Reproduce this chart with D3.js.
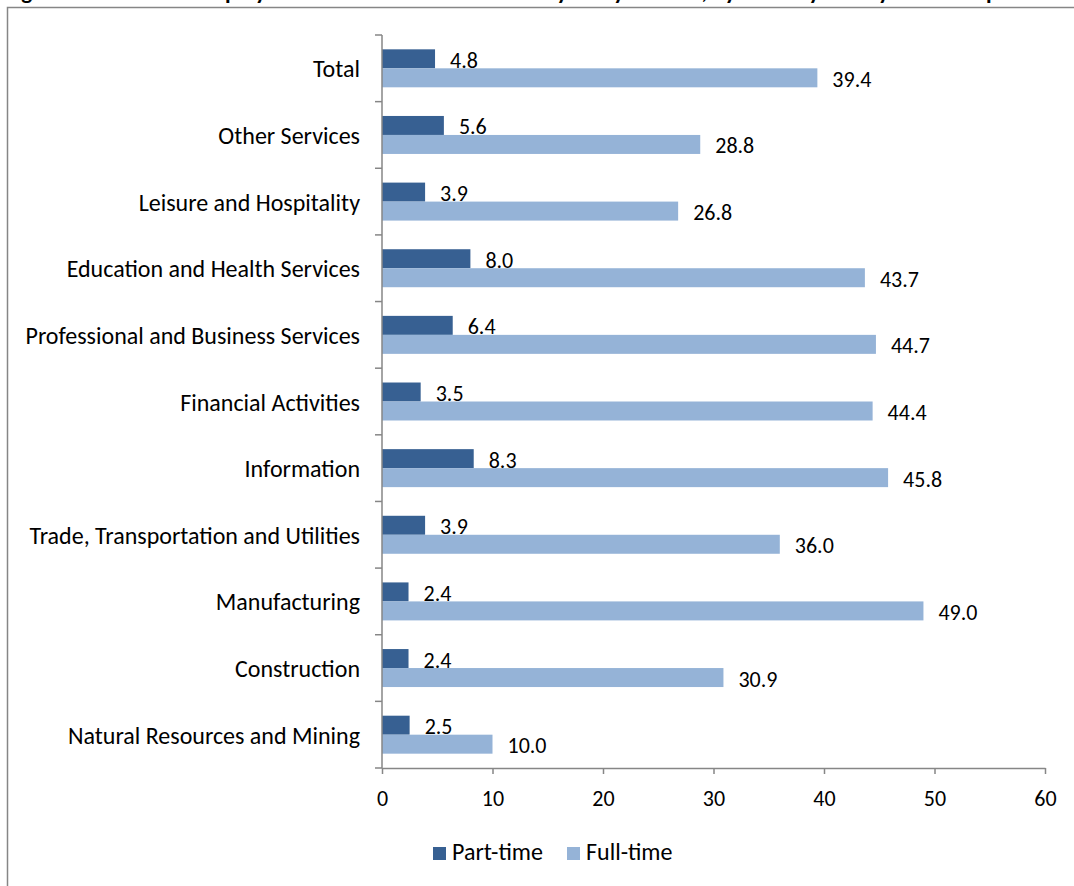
<!DOCTYPE html>
<html>
<head>
<meta charset="utf-8">
<script src="https://cdn.jsdelivr.net/npm/d3@7"></script>
<style>
  html, body { margin: 0; padding: 0; background: #fff; }
  svg { display: block; }
  text { font-family: Carlito, Lato, "Open Sans", sans-serif; fill: #000; }
</style>
</head>
<body>
<svg id="chart" width="1074" height="886"></svg>
<script>
const titleText = "Figure 3. Percent of employed who worked at home on days they worked, by industry and by full-time/part-time status, 2012";
const categories = [
  "Total",
  "Other Services",
  "Leisure and Hospitality",
  "Education and Health Services",
  "Professional and Business Services",
  "Financial Activities",
  "Information",
  "Trade, Transportation and Utilities",
  "Manufacturing",
  "Construction",
  "Natural Resources and Mining"
];
const seriesNames = ["Part-time", "Full-time"];
const partTime = [4.8, 5.6, 3.9, 8.0, 6.4, 3.5, 8.3, 3.9, 2.4, 2.4, 2.5];
const fullTime = [39.4, 28.8, 26.8, 43.7, 44.7, 44.4, 45.8, 36.0, 49.0, 30.9, 10.0];
const xTicks = [0, 10, 20, 30, 40, 50, 60];

const colors = ["#376092", "#95B3D7"];
const axisColor = "#868686";
const labelSize = 24;
const numSize = 22;

const svg = d3.select("#chart");

// outer frame (partly cropped)
svg.append("rect")
  .attr("x", 7.5).attr("y", 7.5)
  .attr("width", 1200).attr("height", 1000)
  .attr("fill", "none").attr("stroke", axisColor).attr("stroke-width", 1.5);

// cropped title
svg.append("text")
  .attr("x", 5).attr("y", -1)
  .attr("font-size", 23).attr("font-weight", "bold")
  .text(titleText);

const margin = { left: 382, right: 1045, top: 35, bottom: 768 };

const x = d3.scaleLinear().domain([0, 60]).range([margin.left, margin.right]);
const y = d3.scaleBand().domain(categories).range([margin.top, margin.bottom])
  .paddingInner(0.43).paddingOuter(0.215);
const ySub = d3.scaleBand().domain(seriesNames).range([0, y.bandwidth()]);

const data = categories.map((c, i) => ({ cat: c, values: [partTime[i], fullTime[i]] }));

// bars
const groups = svg.append("g").selectAll("g").data(data).join("g")
  .attr("transform", d => `translate(0,${y(d.cat)})`);

groups.selectAll("rect").data(d => d.values.map((v, j) => ({ v, s: seriesNames[j], j })))
  .join("rect")
  .attr("x", x(0))
  .attr("y", d => ySub(d.s))
  .attr("width", d => x(d.v) - x(0))
  .attr("height", ySub.bandwidth())
  .attr("fill", d => colors[d.j]);

// value labels
groups.selectAll("text").data(d => d.values.map((v, j) => ({ v, s: seriesNames[j], j })))
  .join("text")
  .attr("x", d => x(d.v) + 15)
  .attr("y", d => ySub(d.s) + ySub.bandwidth() - 0.5)
  .attr("font-size", numSize)
  .text(d => d.v.toFixed(1));

// y axis line and boundary ticks
const halfGap = y.step() * y.paddingInner() / 2;
const boundaries = categories.map(c => y(c) - halfGap).concat([margin.bottom]);
svg.append("line")
  .attr("x1", x(0)).attr("x2", x(0))
  .attr("y1", margin.top).attr("y2", margin.bottom)
  .attr("stroke", axisColor).attr("stroke-width", 1.5);
svg.append("g").selectAll("line").data(boundaries).join("line")
  .attr("x1", x(0) - 7).attr("x2", x(0))
  .attr("y1", d => d).attr("y2", d => d)
  .attr("stroke", axisColor).attr("stroke-width", 1.5);

// category labels
svg.append("g").selectAll("text").data(categories).join("text")
  .attr("x", 360)
  .attr("y", d => y(d) + y.bandwidth() / 2 + 9)
  .attr("text-anchor", "end")
  .attr("font-size", labelSize)
  .text(d => d);

// x axis
const xAxis = svg.append("g")
  .attr("transform", `translate(0,${margin.bottom})`)
  .call(d3.axisBottom(x).tickValues(xTicks).tickSize(6).tickSizeOuter(0).tickPadding(16)
    .tickFormat(d3.format("d")));
xAxis.select(".domain").attr("stroke", axisColor).attr("stroke-width", 1.5);
xAxis.selectAll(".tick line").attr("stroke", axisColor).attr("stroke-width", 1.5);
xAxis.selectAll(".tick text").attr("font-size", numSize).attr("fill", "#000")
  .style("font-family", "Carlito, Lato, 'Open Sans', sans-serif");

// legend
const legendItems = [
  { name: seriesNames[0], color: colors[0], x: 433 },
  { name: seriesNames[1], color: colors[1], x: 567 }
];
const lg = svg.append("g").selectAll("g").data(legendItems).join("g")
  .attr("transform", d => `translate(${d.x},0)`);
lg.append("rect").attr("x", 0).attr("y", 847).attr("width", 13).attr("height", 13)
  .attr("fill", d => d.color);
lg.append("text").attr("x", 19).attr("y", 860).attr("font-size", labelSize)
  .text(d => d.name);
</script>
</body>
</html>
